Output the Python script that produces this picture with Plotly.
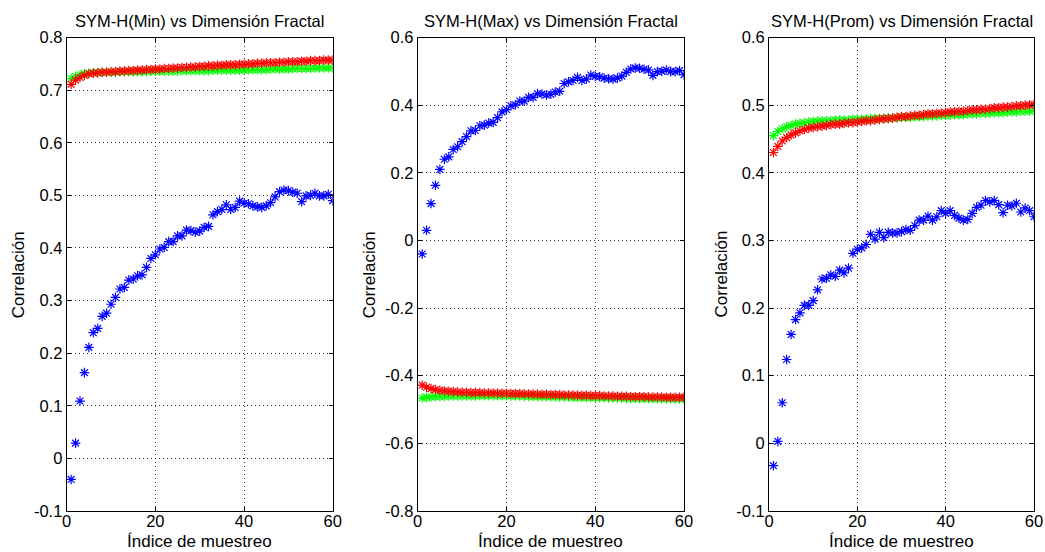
import plotly.graph_objects as go

# ---------------- data ----------------
idx = list(range(1, 61))

titles = ["SYM-H(Min) vs Dimensión Fractal",
          "SYM-H(Max) vs Dimensión Fractal",
          "SYM-H(Prom) vs Dimensión Fractal"]
x_label = "Índice de muestreo"
y_label = "Correlación"

x_ticks = [0, 20, 40, 60]
x_ticktext = ["0", "20", "40", "60"]

y_ticks_1 = [-0.1, 0, 0.1, 0.2, 0.3, 0.4, 0.5, 0.6, 0.7, 0.8]
y_ticktext_1 = ["-0.1", "0", "0.1", "0.2", "0.3", "0.4", "0.5", "0.6", "0.7", "0.8"]
y_ticks_2 = [-0.8, -0.6, -0.4, -0.2, 0, 0.2, 0.4, 0.6]
y_ticktext_2 = ["-0.8", "-0.6", "-0.4", "-0.2", "0", "0.2", "0.4", "0.6"]
y_ticks_3 = [-0.1, 0, 0.1, 0.2, 0.3, 0.4, 0.5, 0.6]
y_ticktext_3 = ["-0.1", "0", "0.1", "0.2", "0.3", "0.4", "0.5", "0.6"]

# Panel 1 : SYM-H(Min)
blue_min = [-0.040, 0.029, 0.109, 0.163, 0.211, 0.239, 0.247, 0.270, 0.276, 0.293,
            0.306, 0.322, 0.325, 0.339, 0.341, 0.347, 0.349, 0.363, 0.380, 0.387,
            0.398, 0.401, 0.412, 0.412, 0.423, 0.423, 0.434, 0.433, 0.430, 0.432,
            0.439, 0.441, 0.463, 0.469, 0.473, 0.482, 0.473, 0.477, 0.489, 0.485,
            0.484, 0.480, 0.478, 0.477, 0.480, 0.486, 0.497, 0.507, 0.510, 0.509,
            0.506, 0.504, 0.488, 0.499, 0.500, 0.504, 0.499, 0.499, 0.502, 0.490]
red_min = [0.711, 0.719, 0.724, 0.728, 0.731, 0.732, 0.733, 0.734, 0.734, 0.735,
           0.735, 0.736, 0.736, 0.737, 0.737, 0.738, 0.738, 0.739, 0.739, 0.740,
           0.740, 0.741, 0.741, 0.742, 0.742, 0.743, 0.743, 0.744, 0.744, 0.745,
           0.745, 0.746, 0.746, 0.747, 0.747, 0.748, 0.748, 0.748, 0.749, 0.749,
           0.750, 0.750, 0.751, 0.751, 0.752, 0.752, 0.752, 0.753, 0.753, 0.754,
           0.754, 0.754, 0.755, 0.755, 0.756, 0.756, 0.756, 0.757, 0.757, 0.757]
green_min = [0.722, 0.726, 0.729, 0.731, 0.732, 0.733, 0.733, 0.734, 0.734, 0.734,
             0.734, 0.735, 0.735, 0.735, 0.735, 0.735, 0.735, 0.735, 0.736, 0.736,
             0.736, 0.736, 0.736, 0.736, 0.736, 0.737, 0.737, 0.737, 0.737, 0.737,
             0.737, 0.737, 0.738, 0.738, 0.738, 0.738, 0.738, 0.738, 0.738, 0.738,
             0.739, 0.739, 0.739, 0.739, 0.739, 0.740, 0.740, 0.740, 0.740, 0.740,
             0.741, 0.741, 0.741, 0.741, 0.741, 0.742, 0.742, 0.742, 0.742, 0.742]

# Panel 2 : SYM-H(Max)
blue_max = [-0.040, 0.030, 0.109, 0.163, 0.210, 0.240, 0.247, 0.269, 0.277, 0.292,
            0.307, 0.324, 0.325, 0.339, 0.341, 0.347, 0.349, 0.363, 0.380, 0.387,
            0.398, 0.401, 0.412, 0.412, 0.423, 0.423, 0.434, 0.433, 0.430, 0.432,
            0.439, 0.441, 0.464, 0.469, 0.473, 0.482, 0.473, 0.477, 0.489, 0.485,
            0.484, 0.480, 0.478, 0.477, 0.480, 0.486, 0.497, 0.507, 0.510, 0.509,
            0.506, 0.504, 0.488, 0.499, 0.500, 0.504, 0.499, 0.499, 0.502, 0.490]
red_max = [-0.428, -0.434, -0.438, -0.441, -0.443, -0.445, -0.446, -0.447, -0.448, -0.449,
           -0.449, -0.450, -0.450, -0.450, -0.451, -0.451, -0.451, -0.452, -0.452, -0.452,
           -0.453, -0.453, -0.453, -0.454, -0.454, -0.454, -0.455, -0.455, -0.455, -0.456,
           -0.456, -0.456, -0.457, -0.457, -0.457, -0.458, -0.458, -0.458, -0.459, -0.459,
           -0.459, -0.460, -0.460, -0.460, -0.461, -0.461, -0.461, -0.462, -0.462, -0.462,
           -0.462, -0.463, -0.463, -0.463, -0.463, -0.464, -0.464, -0.464, -0.464, -0.464]
green_max = [-0.466, -0.464, -0.463, -0.462, -0.461, -0.461, -0.460, -0.460, -0.460, -0.460,
             -0.460, -0.460, -0.460, -0.459, -0.459, -0.459, -0.459, -0.459, -0.459, -0.459,
             -0.460, -0.460, -0.460, -0.461, -0.461, -0.461, -0.462, -0.462, -0.462, -0.462,
             -0.463, -0.463, -0.463, -0.463, -0.464, -0.464, -0.464, -0.464, -0.465, -0.465,
             -0.465, -0.465, -0.466, -0.466, -0.466, -0.466, -0.467, -0.467, -0.467, -0.467,
             -0.467, -0.468, -0.468, -0.468, -0.468, -0.468, -0.469, -0.469, -0.469, -0.469]

# Panel 3 : SYM-H(Prom)
blue_prom = [-0.033, 0.003, 0.060, 0.124, 0.161, 0.183, 0.193, 0.204, 0.204, 0.211,
             0.227, 0.243, 0.244, 0.249, 0.247, 0.256, 0.252, 0.259, 0.281, 0.287,
             0.289, 0.294, 0.309, 0.302, 0.312, 0.304, 0.312, 0.311, 0.311, 0.313,
             0.316, 0.315, 0.322, 0.330, 0.330, 0.336, 0.330, 0.335, 0.344, 0.340,
             0.344, 0.337, 0.333, 0.330, 0.331, 0.340, 0.349, 0.352, 0.359, 0.357,
             0.359, 0.353, 0.341, 0.352, 0.351, 0.355, 0.342, 0.348, 0.344, 0.335]
red_prom = [0.430, 0.439, 0.447, 0.452, 0.456, 0.459, 0.462, 0.464, 0.466, 0.467,
            0.468, 0.469, 0.470, 0.471, 0.472, 0.472, 0.473, 0.474, 0.474, 0.475,
            0.476, 0.477, 0.477, 0.478, 0.479, 0.480, 0.480, 0.481, 0.482, 0.483,
            0.483, 0.484, 0.485, 0.485, 0.486, 0.487, 0.487, 0.488, 0.488, 0.489,
            0.490, 0.490, 0.491, 0.491, 0.492, 0.493, 0.493, 0.494, 0.494, 0.495,
            0.496, 0.496, 0.497, 0.497, 0.498, 0.499, 0.499, 0.500, 0.500, 0.501]
green_prom = [0.455, 0.461, 0.465, 0.468, 0.470, 0.472, 0.473, 0.474, 0.475, 0.476,
              0.476, 0.477, 0.477, 0.477, 0.478, 0.478, 0.478, 0.478, 0.479, 0.479,
              0.479, 0.479, 0.480, 0.480, 0.480, 0.480, 0.481, 0.481, 0.481, 0.482,
              0.482, 0.482, 0.483, 0.483, 0.483, 0.484, 0.484, 0.484, 0.485, 0.485,
              0.485, 0.486, 0.486, 0.486, 0.487, 0.487, 0.487, 0.488, 0.488, 0.488,
              0.489, 0.489, 0.489, 0.490, 0.490, 0.490, 0.491, 0.491, 0.491, 0.492]

# ---------------- figure ----------------
W, H = 1045, 552
FONT = "Liberation Sans, Arial, Helvetica, sans-serif"
x_px = [(66.7, 332.7), (417.7, 684.0), (769.0, 1034.0)]
y_px = (37.5, 511.0)
y_dom = [1 - y_px[1] / H, 1 - y_px[0] / H]

panels = [
    (blue_min, green_min, red_min, [-0.1, 0.8], y_ticks_1, y_ticktext_1),
    (blue_max, green_max, red_max, [-0.8, 0.6], y_ticks_2, y_ticktext_2),
    (blue_prom, green_prom, red_prom, [-0.1, 0.6], y_ticks_3, y_ticktext_3),
]
colors = ["#0000ff", "#00ff00", "#ff0000"]

fig = go.Figure()
layout = dict(
    template="none",
    width=W, height=H,
    autosize=False,
    margin=dict(l=0, r=0, t=0, b=0, pad=0),
    paper_bgcolor="white", plot_bgcolor="white",
    showlegend=False,
    font=dict(family=FONT, size=16, color="black"),
    annotations=[],
)

axis_common = dict(
    automargin=False,
    showline=True, linecolor="black", linewidth=1, mirror="ticks",
    ticks="inside", ticklen=4, tickcolor="black", tickwidth=1,
    showgrid=True, gridcolor="#333333", gridwidth=1, griddash="1px,3px",
    zeroline=False,
    tickfont=dict(family=FONT, size=16.5, color="black"),
)

for k, (b, g, r, yr, yt, ytt) in enumerate(panels):
    n = "" if k == 0 else str(k + 1)
    xa, ya = "x" + n, "y" + n
    for series, col in zip((b, g, r), colors):
        fig.add_trace(go.Scatter(
            x=idx, y=series, mode="markers", xaxis=xa, yaxis=ya,
            marker=dict(symbol="asterisk-open", size=8, color=col,
                        line=dict(color=col, width=1.2)),
            hoverinfo="skip",
        ))
    x0, x1 = x_px[k]
    layout["xaxis" + n] = dict(axis_common, domain=[x0 / W, x1 / W], range=[0, 60],
                               tickvals=x_ticks, ticktext=x_ticktext, anchor=ya,
                               ticklabelstandoff=-5)
    layout["yaxis" + n] = dict(axis_common, domain=y_dom, range=yr,
                               tickvals=yt, ticktext=ytt, anchor=xa)
    cx = (x0 + x1) / 2 / W
    layout["annotations"] += [
        dict(text=titles[k], x=cx, y=1 - 21 / H, xref="paper", yref="paper",
             xanchor="center", yanchor="middle", showarrow=False,
             font=dict(family=FONT, size=16.5, color="black")),
        dict(text=x_label, x=cx, y=1 - 541 / H, xref="paper", yref="paper",
             xanchor="center", yanchor="middle", showarrow=False,
             font=dict(family=FONT, size=17, color="black")),
        dict(text=y_label, x=(x0 - 48) / W, y=1 - 274.5 / H, xref="paper", yref="paper",
             xanchor="center", yanchor="middle", showarrow=False, textangle=-90,
             font=dict(family=FONT, size=17, color="black")),
    ]

fig.update_layout(**layout)
fig.write_html("out.html")
